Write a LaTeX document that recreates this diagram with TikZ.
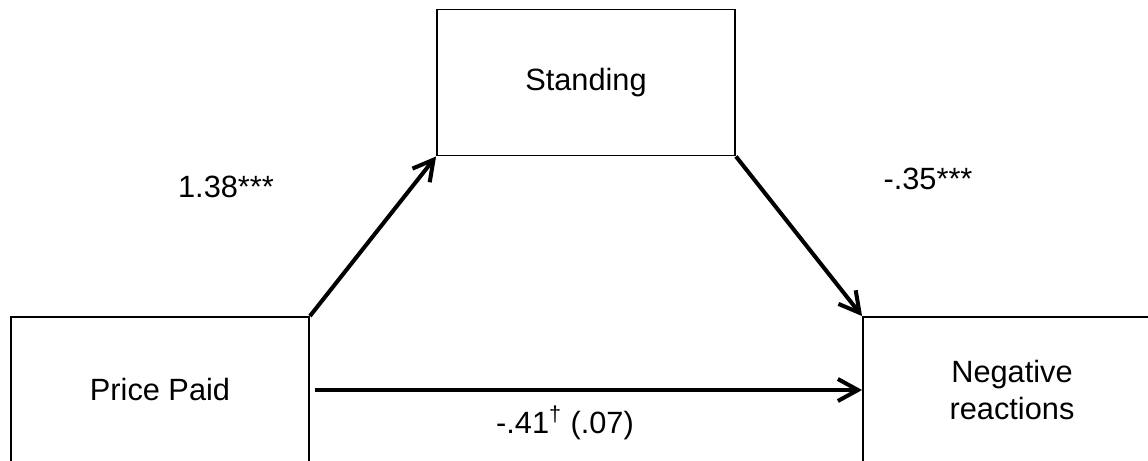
\documentclass[tikz,border=0pt]{standalone}
\usepackage{fontspec}
\setmainfont{Liberation Sans}
\usetikzlibrary{arrows.meta, positioning}

\begin{document}
\begin{tikzpicture}[
  x=0.02cm, y=-0.02cm,
  var/.style={rectangle, draw=black, line width=1.1pt, minimum width=5.96cm,
    minimum height=2.92cm, align=center, inner sep=0pt,
    font=\fontsize{17.5}{20.5}\selectfont},
  arr/.style={-{Straight Barb[length=4mm, width=4.4mm]}, line width=2.3pt, black},
  coef/.style={font=\fontsize{17.5}{20.5}\selectfont, inner sep=0pt, anchor=base}
]
  \useasboundingbox (0,0) rectangle (1148,460);
  \clip (0,0) rectangle (1148,460);

  % variables
  \node[var] (standing) at (586,82.5) {Standing};
  \node[var] (price) at (160,390) {Price Paid};
  \node[var] (negreact) at (1012,390) {Negative\\reactions};

  % paths
  \draw[arr] (price.north east) -- (standing.south west);
  \draw[arr] (standing.south east) -- (negreact.north west);
  \draw[arr] ([xshift=0.1cm]price.east) -- (negreact.west);

  % coefficients
  \node[coef] (apath) at (226,197) {1.38***};
  \node[coef] (bpath) at (928,189) {-.35***};
  \node[coef] (cpath) at (565,433) {-.41\textsuperscript{\textdagger} (.07)};

\end{tikzpicture}
\end{document}
